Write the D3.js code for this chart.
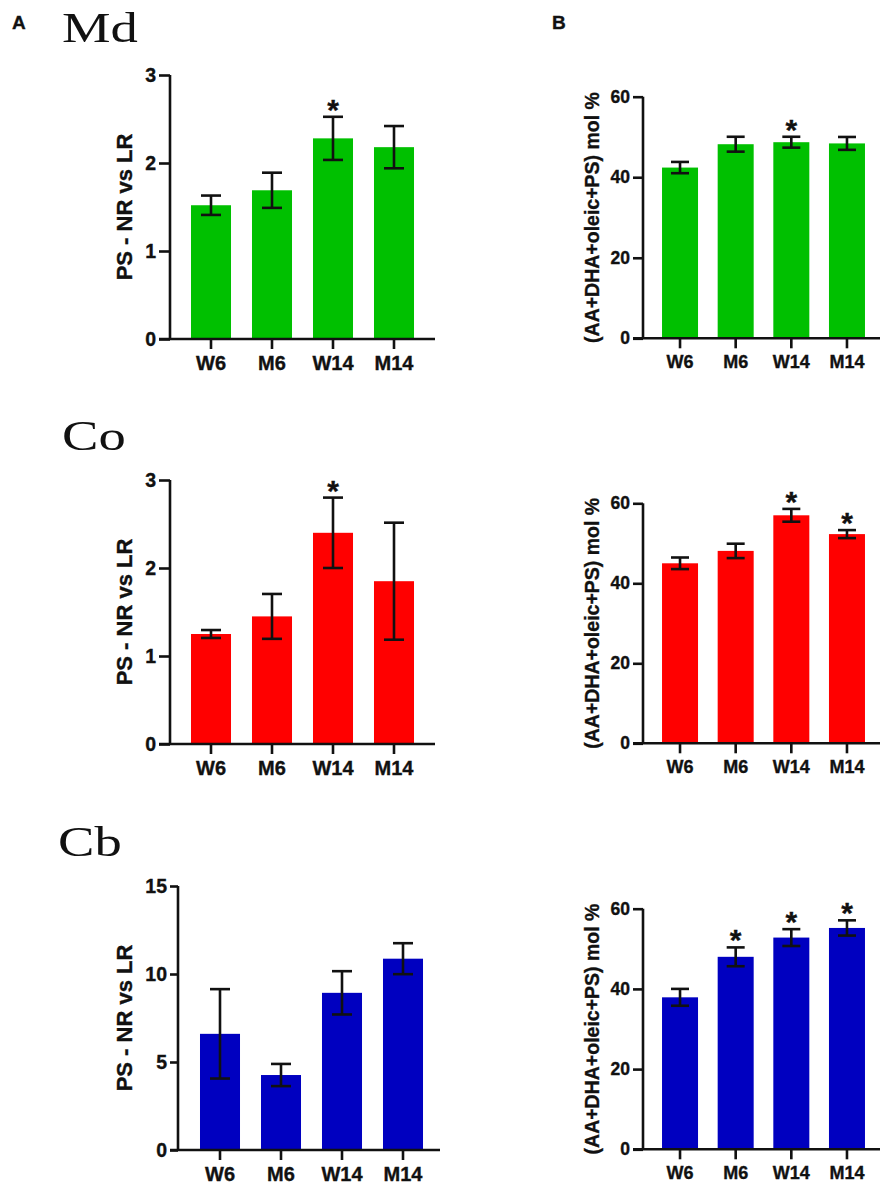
<!DOCTYPE html>
<html>
<head>
<meta charset="utf-8">
<script src="https://cdn.jsdelivr.net/npm/d3@7"></script>
<style>
  body { margin: 0; background: #fff; }
  svg text { font-family: "Liberation Sans", Arial, sans-serif; font-weight: bold; fill: #111; stroke: #111; stroke-width: 0.35px; }
  svg text.region { font-family: "Liberation Serif", "Times New Roman", serif; font-weight: normal; stroke: none; }
  .axis path, .axis line { stroke: #111; stroke-width: 2.6; }
</style>
</head>
<body>
<div id="graphic"><svg class="chart" width="880" height="1186"></svg></div>
<script>
// Data
// ---------------------------------------------------------------------------
var groups = ["W6", "M6", "W14", "M14"];
var regions = ["Md", "Co", "Cb"];
var colors = ["#00c000", "#ff0000", "#0000c0"];

// PS - NR vs LR (left column)
var mdRatio = [1.52, 1.69, 2.28, 2.18];
var mdRatioSem = [0.11, 0.20, 0.245, 0.24];
var mdRatioStar = [0, 0, 1, 0];
var coRatio = [1.25, 1.45, 2.40, 1.85];
var coRatioSem = [0.045, 0.255, 0.40, 0.665];
var coRatioStar = [0, 0, 1, 0];
var cbRatio = [6.6, 4.26, 8.93, 10.87];
var cbRatioSem = [2.54, 0.63, 1.23, 0.88];
var cbRatioStar = [0, 0, 0, 0];

// (AA+DHA+oleic+PS) mol % (right column)
var mdMol = [42.4, 48.2, 48.7, 48.4];
var mdMolSem = [1.4, 1.85, 1.35, 1.6];
var mdMolStar = [0, 0, 1, 0];
var coMol = [45.0, 48.1, 57.0, 52.3];
var coMolSem = [1.45, 1.8, 1.6, 1.0];
var coMolStar = [0, 0, 1, 1];
var cbMol = [37.9, 48.0, 52.8, 55.2];
var cbMolSem = [2.1, 2.35, 2.1, 1.9];
var cbMolStar = [0, 1, 1, 1];

var ratioTicks = [0, 1, 2, 3];
var cbRatioTicks = [0, 5, 10, 15];
var molTicks = [0, 20, 40, 60];

var ratioLabel = "PS - NR vs LR";
var molLabel = "(AA+DHA+oleic+PS) mol %";

// Panels: data + layout
// ---------------------------------------------------------------------------
function rows(mean, sem, star) {
  return groups.map(function(g, i) {
    return { group: g, mean: mean[i], sem: sem[i], star: star[i] };
  });
}

var left = { axisX: 170, band: [180.5, 424.5], lineStart: 159, lineEnd: 435, pad: 0.344, font: 19.5, xfont: 20, label: 22, labelX: 132 };
var right = { axisX: 643, band: [652.2, 874.8], lineStart: 633, lineEnd: 880, pad: 0.353, font: 17.5, xfont: 18, label: 19.5, labelX: 599 };

var panels = [
  { side: left,  top: 75,    bottom: 339,   ticks: ratioTicks,   title: ratioLabel, color: colors[0], rows: rows(mdRatio, mdRatioSem, mdRatioStar) },
  { side: right, top: 96.7,  bottom: 338.3, ticks: molTicks,     title: molLabel,   color: colors[0], rows: rows(mdMol, mdMolSem, mdMolStar) },
  { side: left,  top: 480,   bottom: 744,   ticks: ratioTicks,   title: ratioLabel, color: colors[1], rows: rows(coRatio, coRatioSem, coRatioStar) },
  { side: right, top: 503.3, bottom: 743.3, ticks: molTicks,     title: molLabel,   color: colors[1], rows: rows(coMol, coMolSem, coMolStar) },
  { side: Object.assign({}, left, { axisX: 178, band: [189.5, 433.5], lineStart: 170, lineEnd: 440 }),
                 top: 886,   bottom: 1150,  ticks: cbRatioTicks, title: ratioLabel, color: colors[2], rows: rows(cbRatio, cbRatioSem, cbRatioStar) },
  { side: right, top: 908.7, bottom: 1149.3, ticks: molTicks,    title: molLabel,   color: colors[2], rows: rows(cbMol, cbMolSem, cbMolStar) }
];

var svg = d3.select("svg.chart");

// Panel letters and region names
svg.append("text").attr("x", 12).attr("y", 29).style("font-size", "19px").text("A");
svg.append("text").attr("x", 552).attr("y", 29).style("font-size", "19px").text("B");

// Region names are drawn wide in the original figure
var regionPos = [[62, 42], [62, 450], [58, 856]];
svg.selectAll("text.region")
    .data(regions)
  .enter().append("text")
    .attr("class", "region")
    .attr("transform", function(d, i) {
      return "translate(" + regionPos[i][0] + "," + regionPos[i][1] + ") scale(1.27,1)";
    })
    .style("font-size", "43px")
    .text(function(d) { return d; });

panels.forEach(function(p) {
  var s = p.side;

  var x = d3.scaleBand()
      .domain(groups)
      .range(s.band)
      .paddingInner(s.pad)
      .paddingOuter(s.pad / 2);

  var y = d3.scaleLinear()
      .domain([0, d3.max(p.ticks)])
      .range([p.bottom, p.top]);

  var g = svg.append("g");

  // Bars
  g.selectAll("rect")
      .data(p.rows)
    .enter().append("rect")
      .attr("x", function(d) { return x(d.group); })
      .attr("y", function(d) { return y(d.mean); })
      .attr("width", x.bandwidth())
      .attr("height", function(d) { return y(0) - y(d.mean); })
      .attr("fill", p.color);

  // Error bars
  var cap = x.bandwidth() / 4;
  var err = g.selectAll("g.err")
      .data(p.rows)
    .enter().append("g")
      .attr("class", "err")
      .attr("transform", function(d) { return "translate(" + (x(d.group) + x.bandwidth() / 2) + ",0)"; })
      .attr("stroke", "#111")
      .attr("stroke-width", 2.6);

  err.append("line")
      .attr("y1", function(d) { return y(d.mean - d.sem); })
      .attr("y2", function(d) { return y(d.mean + d.sem); });
  err.append("line")
      .attr("x1", -cap).attr("x2", cap)
      .attr("y1", function(d) { return y(d.mean + d.sem); })
      .attr("y2", function(d) { return y(d.mean + d.sem); });
  err.append("line")
      .attr("x1", -cap).attr("x2", cap)
      .attr("y1", function(d) { return y(d.mean - d.sem); })
      .attr("y2", function(d) { return y(d.mean - d.sem); });

  // Significance stars
  g.selectAll("text.star")
      .data(p.rows.filter(function(d) { return d.star; }))
    .enter().append("text")
      .attr("class", "star")
      .attr("x", function(d) { return x(d.group) + x.bandwidth() / 2; })
      .attr("y", function(d) { return y(d.mean + d.sem) + 3; })
      .attr("text-anchor", "middle")
      .style("font-size", "30px")
      .text("*");

  // Axes
  var yAxis = g.append("g")
      .attr("class", "axis")
      .attr("transform", "translate(" + s.axisX + ",0)")
      .call(d3.axisLeft(y)
        .tickValues(p.ticks)
        .tickFormat(d3.format("d"))
        .tickSize(s.axisX - s.lineStart)
        .tickSizeOuter(0)
        .tickPadding(3));
  yAxis.select(".domain").attr("d", "M0," + y(0) + "V" + p.top);
  yAxis.selectAll("text").style("font-size", s.font + "px");

  var xAxis = g.append("g")
      .attr("class", "axis")
      .attr("transform", "translate(0," + p.bottom + ")")
      .call(d3.axisBottom(x).tickSize(10).tickSizeOuter(0).tickPadding(7));
  xAxis.select(".domain").attr("d", "M" + s.lineStart + ",0H" + s.lineEnd);
  xAxis.selectAll("text").style("font-size", s.xfont + "px");
  g.selectAll(".axis text").attr("fill", "#111").style("font-family", "'Liberation Sans', Arial, sans-serif");

  // Y label
  g.append("text")
      .attr("transform", "translate(" + s.labelX + "," + ((p.top + p.bottom) / 2) + ") rotate(-90)")
      .attr("text-anchor", "middle")
      .style("font-size", s.label + "px")
      .text(p.title);
});
</script>
</body>
</html>
